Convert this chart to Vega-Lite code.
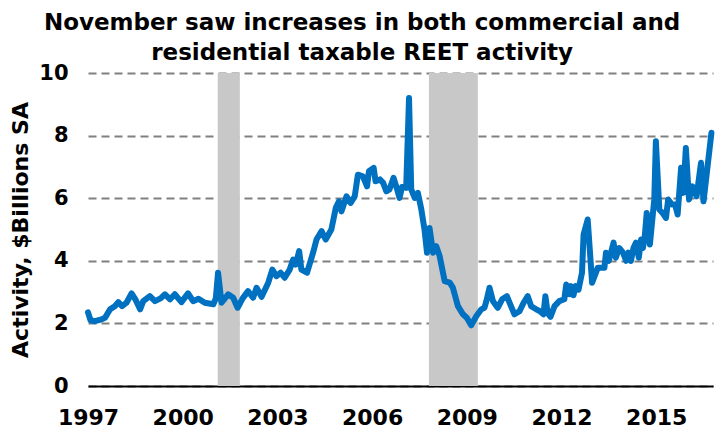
{
  "$schema": "https://vega.github.io/schema/vega-lite/v6.json",
  "autosize": "none",
  "width": 625,
  "height": 313,
  "padding": {"left": 88, "top": 73, "right": 6, "bottom": 43},
  "background": "white",
  "title": {
    "text": ["November saw increases in both commercial and", "residential taxable REET activity"],
    "font": "DejaVu Sans",
    "fontSize": 23,
    "fontWeight": "bold",
    "color": "#000000",
    "anchor": "middle",
    "frame": "bounds",
    "offset": -3,
    "lineHeight": 30
  },
  "config": {
    "view": {"stroke": null},
    "font": "DejaVu Sans"
  },
  "datasets": {
    "recessions": [
      {"start": 2001.11, "end": 2001.81},
      {"start": 2007.8, "end": 2009.35}
    ],
    "reet": [
      {"date": 1997.0, "value": 2.35},
      {"date": 1997.08, "value": 2.1},
      {"date": 1997.22, "value": 2.07},
      {"date": 1997.4, "value": 2.12},
      {"date": 1997.54, "value": 2.18},
      {"date": 1997.7, "value": 2.45},
      {"date": 1997.85, "value": 2.55},
      {"date": 1997.96, "value": 2.68},
      {"date": 1998.08, "value": 2.55},
      {"date": 1998.22, "value": 2.66},
      {"date": 1998.38, "value": 2.96},
      {"date": 1998.5, "value": 2.77},
      {"date": 1998.65, "value": 2.45},
      {"date": 1998.75, "value": 2.71},
      {"date": 1998.96, "value": 2.87},
      {"date": 1999.12, "value": 2.71},
      {"date": 1999.3, "value": 2.8},
      {"date": 1999.44, "value": 2.93},
      {"date": 1999.6, "value": 2.77},
      {"date": 1999.75, "value": 2.93},
      {"date": 1999.96, "value": 2.68},
      {"date": 2000.17, "value": 2.96},
      {"date": 2000.33, "value": 2.71},
      {"date": 2000.5, "value": 2.79},
      {"date": 2000.7, "value": 2.66},
      {"date": 2000.97, "value": 2.61},
      {"date": 2001.05, "value": 2.8},
      {"date": 2001.12, "value": 3.62},
      {"date": 2001.23, "value": 2.66},
      {"date": 2001.44, "value": 2.93},
      {"date": 2001.6, "value": 2.82},
      {"date": 2001.74, "value": 2.5},
      {"date": 2001.9, "value": 2.8},
      {"date": 2002.07, "value": 3.03},
      {"date": 2002.23, "value": 2.82},
      {"date": 2002.34, "value": 3.14},
      {"date": 2002.5, "value": 2.85},
      {"date": 2002.71, "value": 3.3},
      {"date": 2002.84, "value": 3.72},
      {"date": 2002.97, "value": 3.51},
      {"date": 2003.1, "value": 3.62},
      {"date": 2003.23, "value": 3.46},
      {"date": 2003.39, "value": 3.72},
      {"date": 2003.5, "value": 4.04},
      {"date": 2003.58, "value": 3.88},
      {"date": 2003.69, "value": 4.31},
      {"date": 2003.76, "value": 3.72},
      {"date": 2003.94, "value": 3.62},
      {"date": 2004.13, "value": 4.26},
      {"date": 2004.24, "value": 4.68},
      {"date": 2004.4, "value": 4.95},
      {"date": 2004.53, "value": 4.68},
      {"date": 2004.71, "value": 5.0},
      {"date": 2004.85, "value": 5.69},
      {"date": 2004.95, "value": 5.9},
      {"date": 2005.03, "value": 5.58},
      {"date": 2005.19, "value": 6.06},
      {"date": 2005.32, "value": 5.85},
      {"date": 2005.45, "value": 6.06},
      {"date": 2005.55, "value": 6.75},
      {"date": 2005.71, "value": 6.7},
      {"date": 2005.84, "value": 6.38},
      {"date": 2005.9, "value": 6.86},
      {"date": 2006.05, "value": 6.97},
      {"date": 2006.11, "value": 6.54},
      {"date": 2006.25, "value": 6.6},
      {"date": 2006.35, "value": 6.49},
      {"date": 2006.45, "value": 6.22},
      {"date": 2006.55, "value": 6.28},
      {"date": 2006.68, "value": 6.65},
      {"date": 2006.78, "value": 6.33},
      {"date": 2006.87, "value": 6.01},
      {"date": 2006.95, "value": 6.36},
      {"date": 2007.08, "value": 6.33},
      {"date": 2007.17, "value": 9.2},
      {"date": 2007.24, "value": 6.28},
      {"date": 2007.35, "value": 6.01},
      {"date": 2007.45, "value": 6.17},
      {"date": 2007.56, "value": 5.64},
      {"date": 2007.66, "value": 5.0},
      {"date": 2007.74, "value": 4.26},
      {"date": 2007.82, "value": 5.05},
      {"date": 2007.93, "value": 4.26},
      {"date": 2008.03, "value": 4.47},
      {"date": 2008.14, "value": 4.15},
      {"date": 2008.3, "value": 3.35},
      {"date": 2008.46, "value": 3.3},
      {"date": 2008.56, "value": 3.14},
      {"date": 2008.72, "value": 2.55},
      {"date": 2008.88, "value": 2.29},
      {"date": 2009.0, "value": 2.18},
      {"date": 2009.14, "value": 1.94},
      {"date": 2009.3, "value": 2.23},
      {"date": 2009.46, "value": 2.45},
      {"date": 2009.56, "value": 2.5},
      {"date": 2009.62, "value": 2.71},
      {"date": 2009.72, "value": 3.14},
      {"date": 2009.83, "value": 2.71},
      {"date": 2009.98, "value": 2.5},
      {"date": 2010.12, "value": 2.77},
      {"date": 2010.27, "value": 2.87},
      {"date": 2010.4, "value": 2.55},
      {"date": 2010.51, "value": 2.29},
      {"date": 2010.67, "value": 2.39},
      {"date": 2010.8, "value": 2.66},
      {"date": 2010.93, "value": 2.87},
      {"date": 2011.04, "value": 2.55},
      {"date": 2011.2, "value": 2.45},
      {"date": 2011.32, "value": 2.39},
      {"date": 2011.43, "value": 2.29},
      {"date": 2011.49, "value": 2.87},
      {"date": 2011.56, "value": 2.34},
      {"date": 2011.65, "value": 2.21},
      {"date": 2011.78, "value": 2.55},
      {"date": 2011.93, "value": 2.71},
      {"date": 2012.09, "value": 2.77},
      {"date": 2012.15, "value": 3.24},
      {"date": 2012.25, "value": 2.93},
      {"date": 2012.3, "value": 3.19},
      {"date": 2012.38, "value": 2.9},
      {"date": 2012.45, "value": 3.19},
      {"date": 2012.54, "value": 3.08},
      {"date": 2012.65, "value": 3.62},
      {"date": 2012.7, "value": 4.84},
      {"date": 2012.83, "value": 5.32},
      {"date": 2012.97, "value": 3.3},
      {"date": 2013.15, "value": 3.78},
      {"date": 2013.36, "value": 3.78},
      {"date": 2013.41, "value": 4.26},
      {"date": 2013.5, "value": 4.0},
      {"date": 2013.65, "value": 4.58},
      {"date": 2013.72, "value": 4.1},
      {"date": 2013.83, "value": 4.41},
      {"date": 2013.95, "value": 4.26},
      {"date": 2014.05, "value": 4.0},
      {"date": 2014.12, "value": 4.26},
      {"date": 2014.2, "value": 4.0},
      {"date": 2014.28, "value": 4.41},
      {"date": 2014.36, "value": 4.58},
      {"date": 2014.45, "value": 4.1},
      {"date": 2014.52, "value": 4.68},
      {"date": 2014.58, "value": 4.41},
      {"date": 2014.64, "value": 4.79},
      {"date": 2014.7, "value": 5.53},
      {"date": 2014.8, "value": 4.52},
      {"date": 2014.94, "value": 5.96},
      {"date": 2014.99, "value": 7.82},
      {"date": 2015.1, "value": 5.64},
      {"date": 2015.2, "value": 5.53},
      {"date": 2015.31, "value": 5.37},
      {"date": 2015.38, "value": 5.96},
      {"date": 2015.5, "value": 5.8},
      {"date": 2015.6, "value": 5.8},
      {"date": 2015.68, "value": 5.48},
      {"date": 2015.79, "value": 6.97},
      {"date": 2015.86, "value": 6.17},
      {"date": 2015.94, "value": 7.6},
      {"date": 2016.04, "value": 5.96},
      {"date": 2016.15, "value": 6.38},
      {"date": 2016.28, "value": 6.06},
      {"date": 2016.42, "value": 7.13},
      {"date": 2016.5, "value": 5.9},
      {"date": 2016.75, "value": 8.09}
    ]
  },
  "layer": [
    {
      "data": {"name": "recessions"},
      "mark": {"type": "rect", "color": "#c8c8c8"},
      "encoding": {
        "x": {"field": "start", "type": "quantitative", "scale": {"domain": [1997, 2016.8], "nice": false, "zero": false}},
        "x2": {"field": "end"},
        "y": {"datum": 0, "type": "quantitative", "scale": {"domain": [0, 10], "nice": false}},
        "y2": {"datum": 10}
      }
    },
    {
      "data": {"name": "reet"},
      "mark": {"type": "line", "color": "#0070c0", "strokeWidth": 6, "strokeJoin": "round", "strokeCap": "round"},
      "encoding": {
        "x": {
          "field": "date",
          "type": "quantitative",
          "scale": {"domain": [1997, 2016.8], "nice": false, "zero": false},
          "axis": {
            "title": null,
            "values": [1997, 2000, 2003, 2006, 2009, 2012, 2015],
            "format": "d",
            "grid": false,
            "ticks": false,
            "tickSize": 0,
            "domainColor": "#000000",
            "domainWidth": 2,
            "labelFont": "DejaVu Sans",
            "labelFontSize": 22,
            "labelFontWeight": "bold",
            "labelColor": "#000000",
            "labelPadding": 21,
            "labelFlush": false,
            "labelOverlap": false
          }
        },
        "y": {
          "field": "value",
          "type": "quantitative",
          "scale": {"domain": [0, 10], "nice": false},
          "axis": {
            "title": "Activity, $Billions SA",
            "titleFont": "DejaVu Sans",
            "titleFontSize": 22,
            "titleFontWeight": "bold",
            "titleColor": "#000000",
            "titlePadding": 6,
            "values": [0, 2, 4, 6, 8, 10],
            "domain": false,
            "ticks": false,
            "tickSize": 0,
            "grid": true,
            "gridColor": "#808080",
            "gridWidth": 2,
            "gridDash": [8, 5],
            "labelFont": "DejaVu Sans",
            "labelFontSize": 21,
            "labelFontWeight": "bold",
            "labelColor": "#000000",
            "labelPadding": 20
          }
        }
      }
    }
  ]
}
